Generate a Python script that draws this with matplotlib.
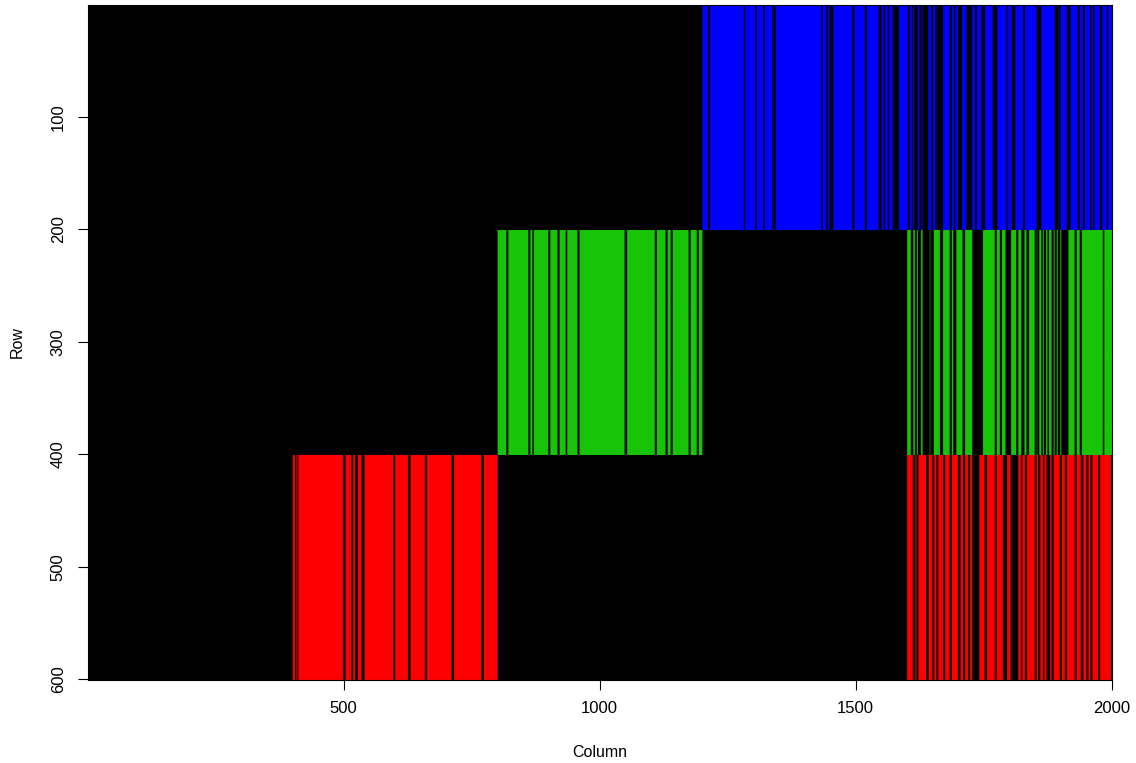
import numpy as np
import matplotlib
matplotlib.use("Agg")
import matplotlib.pyplot as plt
from matplotlib.colors import ListedColormap

plt.rcParams["font.family"] = ["Liberation Sans", "DejaVu Sans"]

n_rows, n_cols = 600, 2000
colors = ["#000000", "#FF0000", "#18C408", "#0000FF"]  # 0 black, 1 red, 2 green, 3 blue

# blocks: (row_start, row_end, col_start, col_end, code)
block_rows = [(1, 200), (201, 400), (201, 400), (401, 600), (401, 600)]
block_cols = [(1201, 2000), (801, 1200), (1601, 2000), (401, 800), (1601, 2000)]
block_codes = [3, 2, 2, 1, 1]

# black (zero) column stripes inside each block: (start, end)
blue_gaps = [(1212, 1215), (1282, 1284), (1304, 1306), (1320, 1322), (1337, 1339), (1341, 1343),
             (1433, 1435), (1443, 1445), (1449, 1456), (1494, 1497), (1518, 1521), (1545, 1550),
             (1555, 1557), (1563, 1565), (1573, 1584), (1602, 1605), (1610, 1612), (1615, 1621),
             (1625, 1628), (1631, 1641), (1648, 1651), (1656, 1658), (1660, 1670), (1684, 1687),
             (1692, 1694), (1700, 1707), (1717, 1727), (1733, 1736), (1746, 1752), (1768, 1776),
             (1795, 1797), (1805, 1811), (1827, 1830), (1854, 1862), (1889, 1895), (1897, 1900),
             (1913, 1919), (1934, 1937), (1944, 1947), (1958, 1960), (1964, 1966), (1977, 1981),
             (1991, 1993)]
green_left_gaps = [(818, 821), (861, 864), (869, 871), (900, 903), (918, 921), (934, 936),
                   (957, 960), (1049, 1053), (1108, 1111), (1129, 1132), (1139, 1142),
                   (1174, 1177), (1190, 1193)]
green_right_gaps = [(1608, 1612), (1616, 1619), (1622, 1627), (1631, 1644), (1646, 1652),
                    (1665, 1670), (1684, 1687), (1691, 1696), (1709, 1713), (1728, 1748),
                    (1772, 1775), (1782, 1785), (1793, 1803), (1814, 1817), (1824, 1829),
                    (1834, 1838), (1850, 1853), (1855, 1858), (1863, 1865), (1868, 1871),
                    (1875, 1877), (1883, 1886), (1889, 1892), (1895, 1899), (1902, 1915),
                    (1928, 1931), (1938, 1941), (1983, 1985)]
red_left_gaps = [(405, 407), (410, 411), (499, 503), (515, 518), (523, 527), (535, 540),
                 (597, 600), (626, 630), (659, 662), (711, 715), (769, 773)]
red_right_gaps = [(1612, 1616), (1619, 1622), (1638, 1642), (1650, 1653), (1658, 1661),
                  (1671, 1674), (1684, 1687), (1700, 1704), (1710, 1713), (1720, 1723),
                  (1728, 1741), (1752, 1756), (1772, 1775), (1788, 1795), (1803, 1817),
                  (1823, 1825), (1831, 1834), (1850, 1853), (1857, 1860), (1866, 1868),
                  (1873, 1879), (1883, 1886), (1899, 1902), (1909, 1912), (1928, 1931),
                  (1940, 1944), (1951, 1954), (1959, 1962), (1974, 1977), (1999, 2000)]
block_gaps = [blue_gaps, green_left_gaps, green_right_gaps, red_left_gaps, red_right_gaps]

x_ticks = [500, 1000, 1500, 2000]
y_ticks = [100, 200, 300, 400, 500, 600]

mat = np.zeros((n_rows, n_cols), dtype=int)
for (r0, r1), (c0, c1), code, gaps in zip(block_rows, block_cols, block_codes, block_gaps):
    mat[r0 - 1:r1, c0 - 1:c1] = code
    for g0, g1 in gaps:
        mat[r0 - 1:r1, g0 - 1:g1] = 0

fig = plt.figure(figsize=(11.36, 7.63), dpi=100)
ax = fig.add_axes([88 / 1136, 1 - 680 / 763, (1112 - 88) / 1136, (680 - 5) / 763])
ax.imshow(mat, cmap=ListedColormap(colors), vmin=0, vmax=3, aspect="auto",
          extent=(0.5, n_cols + 0.5, n_rows + 0.5, 0.5), interpolation="antialiased")
ax.set_xlim(0.5, n_cols + 0.5)
ax.set_ylim(n_rows + 0.5, 0.5)
ax.set_xticks(x_ticks)
ax.set_yticks(y_ticks)
ax.set_yticklabels([str(v) for v in y_ticks], rotation=90, va="center")
ax.tick_params(axis="both", direction="out", length=7, width=0.8, labelsize=12,
               colors="#000000")
ax.tick_params(axis="x", pad=8)
ax.tick_params(axis="y", pad=9)
for s in ax.spines.values():
    s.set_linewidth(0.8)
ax.set_xlabel("Column", fontsize=11.5, labelpad=21)
ax.set_ylabel("Row", fontsize=11.5, labelpad=19)
fig.savefig("out.png", dpi=100)
